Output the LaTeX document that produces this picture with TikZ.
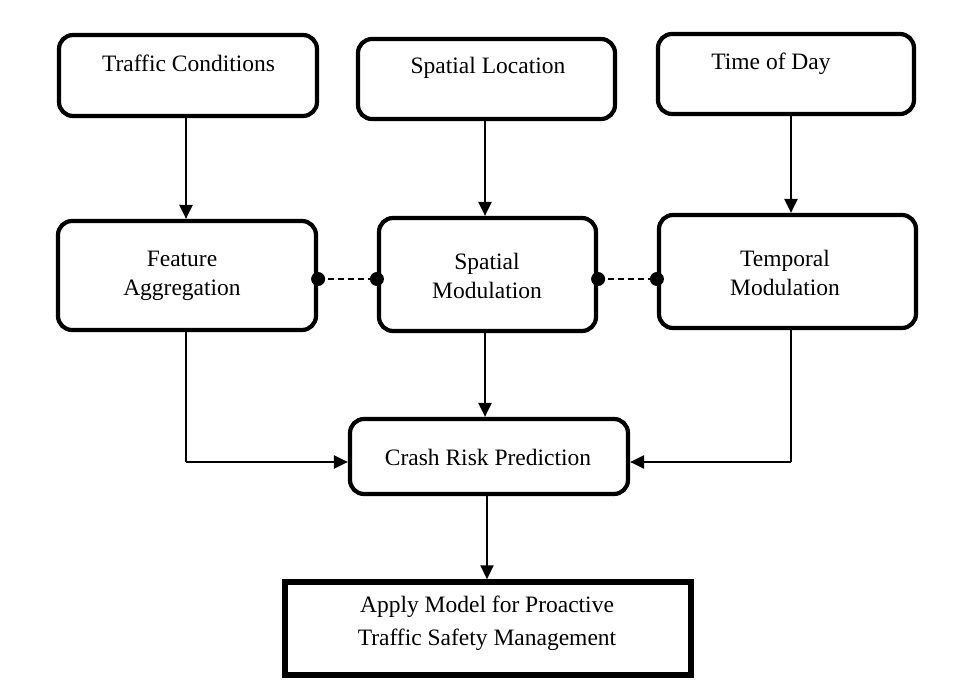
\documentclass[tikz,border=0pt]{standalone}
\usepackage{fontspec}
\setmainfont{Liberation Serif}
\usetikzlibrary{arrows.meta}
\begin{document}
\begin{tikzpicture}[x=1pt,y=-1pt,
  box/.style={draw, line width=4.2pt, rounded corners=14pt, inner sep=0pt},
  sqbox/.style={draw, line width=5.5pt, inner sep=0pt},
  txt/.style={font=\fontsize{23.5}{29}\selectfont, align=center, inner sep=0pt},
  arr/.style={line width=2.2pt, -{Triangle[length=14pt,width=13pt]}},
  plainline/.style={line width=2.2pt},
  dotnode/.style={circle, fill=black, inner sep=0pt, minimum size=14pt},
  dashline/.style={line width=2.2pt, dash pattern=on 6pt off 4pt}
]
\useasboundingbox (0,0) rectangle (969,695);

% boxes
\node[box, minimum width=258pt, minimum height=81pt] (tc) at (188,75.5) {};
\node[box, minimum width=257pt, minimum height=80pt] (sl) at (486.5,79) {};
\node[box, minimum width=256pt, minimum height=80pt] (td) at (786,74) {};
\node[box, minimum width=258pt, minimum height=109pt] (fa) at (187,275.5) {};
\node[box, minimum width=217pt, minimum height=113pt] (sm) at (487.5,274.5) {};
\node[box, minimum width=257pt, minimum height=113pt] (tm) at (787.5,271.5) {};
\node[box, minimum width=278pt, minimum height=75pt] (cr) at (489,456.5) {};
\node[sqbox, minimum width=406pt, minimum height=93pt] (am) at (488,628.5) {};

% texts
\node[txt, anchor=base] (ttc) at (188.5,72) {Traffic Conditions};
\node[txt, anchor=base] (tsl) at (488,74) {Spatial Location};
\node[txt, anchor=base] (ttd) at (771,70) {Time of Day};
\node[txt] (tfa) at (182,276) {Feature\\Aggregation};
\node[txt] (tsm) at (487,276) {Spatial\\Modulation};
\node[txt] (ttm) at (785,273) {Temporal\\Modulation};
\node[txt, anchor=base] (tcr) at (488,465) {Crash Risk Prediction};
\node[txt, font=\fontsize{23.5}{33}\selectfont] (tam) at (487,623) {Apply Model for Proactive\\Traffic Safety Management};

% arrow columns
\coordinate (xa) at (186,0);
\coordinate (xb) at (485,0);
\coordinate (xc) at (791,0);
\coordinate (xd) at (487,0);
\coordinate (ys) at (0,462);

% vertical arrows
\draw[arr] (tc.south -| xa) -- (fa.north -| xa);
\draw[arr] (sl.south -| xb) -- (sm.north -| xb);
\draw[arr] (td.south -| xc) -- (tm.north -| xc);
\draw[arr] (sm.south -| xb) -- (cr.north -| xb);
\draw[arr] (cr.south -| xd) -- (am.north -| xd);

% side arrows into crash risk
\coordinate (lc) at (xa |- ys);
\coordinate (rc) at (xc |- ys);
\draw[plainline] (fa.south -| xa) -- (lc);
\draw[arr] (lc) -- (cr.west |- ys);
\draw[plainline] (tm.south -| xc) -- (rc);
\draw[arr] (rc) -- (cr.east |- ys);

% dashed links with dots
\coordinate (yd) at (0,279);
\coordinate (d1) at (fa.east |- yd);
\coordinate (d2) at (sm.west |- yd);
\coordinate (d3) at (sm.east |- yd);
\coordinate (d4) at (tm.west |- yd);
\draw[dashline] (d1) -- (d2);
\draw[dashline] (d3) -- (d4);
\node[dotnode] (p1) at (d1) {};
\node[dotnode] (p2) at (d2) {};
\node[dotnode] (p3) at (d3) {};
\node[dotnode] (p4) at (d4) {};
\end{tikzpicture}
\end{document}
